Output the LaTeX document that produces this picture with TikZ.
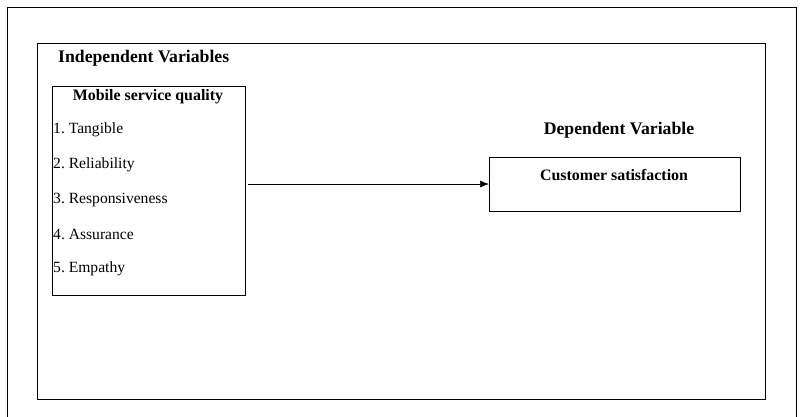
\documentclass[tikz,border=0pt]{standalone}
\usepackage{fontspec}
\setmainfont{Liberation Serif}
\usetikzlibrary{arrows.meta}
\begin{document}
\frenchspacing
\begin{tikzpicture}[x=1pt,y=-1pt,
  box/.style={draw,line width=1pt},
  item/.style={anchor=west,inner sep=0pt,font=\fontsize{15.6}{18}\selectfont},
  head/.style={inner sep=0pt,font=\fontsize{17.7}{20}\selectfont\bfseries},
  sub/.style={inner sep=0pt,font=\fontsize{15.9}{18}\selectfont\bfseries}]
\useasboundingbox (0,0) rectangle (803,416);
\draw[line width=0.8pt] (7,420) -- (7,7) -- (796,7) -- (796,420);
\draw[line width=0.8pt] (37,43) rectangle (765,399);
\node[head,anchor=west] (iv) at (58,58) {Independent Variables};
\node[box,minimum width=193pt,minimum height=209pt,anchor=north west] (msq) at (52,86) {};
\node[sub] (t) at (148,97) {Mobile service quality};
\node[item] (i1) at (53,130) {1. Tangible};
\node[item] (i2) at (53,165) {2. Reliability};
\node[item] (i3) at (53,200) {3. Responsiveness};
\node[item] (i4) at (53,234) {4. Assurance};
\node[item] (i5) at (53,269) {5. Empathy};
\node[head] (dv) at (619,130) {Dependent Variable};
\node[box,minimum width=251pt,minimum height=54pt,anchor=north west] (cs) at (489,157) {};
\node[sub] (cst) at (614,175) {Customer satisfaction};
\draw[-{Latex[length=9pt,width=7pt]},line width=0.7pt] (msq.east |- 0,184) ++(2,0) coordinate (a) -- (cs.west |- a);
\end{tikzpicture}
\end{document}
